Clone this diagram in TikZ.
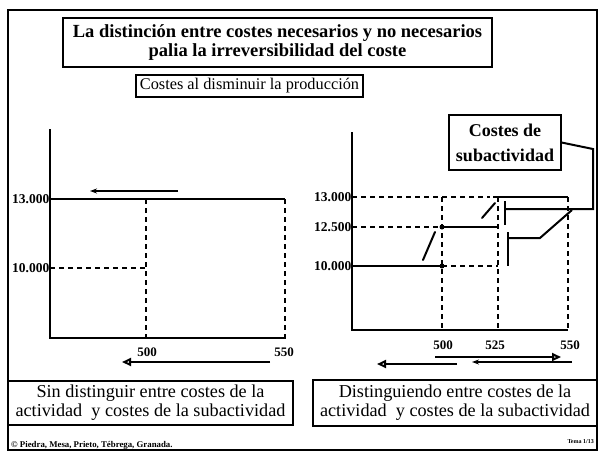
\documentclass[tikz,border=0pt]{standalone}
\usepackage{fontspec}
\setmainfont{Liberation Serif}
\usetikzlibrary{arrows.meta}
\begin{document}
\begin{tikzpicture}[x=1pt,y=-1pt,
  axisline/.style={line width=2.6pt},
  solidline/.style={line width=2.8pt},
  dashline/.style={line width=2pt, dash pattern=on 5pt off 4pt},
  thinline/.style={line width=2pt},
  boxnode/.style={draw, line width=1.1pt, inner sep=0pt, align=center},
  ylab/.style={anchor=east, inner sep=0.5pt, font=\fontsize{13.5}{13.5}\selectfont\bfseries},
  xlab/.style={inner sep=0pt, font=\fontsize{13}{13}\selectfont\bfseries},
  opentip/.style={-{Triangle[open,length=9pt,width=8pt]}},
  smalltip/.style={-{Stealth[length=7pt,width=5pt]}}
]
\useasboundingbox (0,0) rectangle (599,453);
\draw[line width=2pt] (8,10) rectangle (597,450);

% titles
\node[boxnode, minimum width=429pt, minimum height=49pt,
      font=\fontsize{18.5}{19}\selectfont\bfseries] (title) at (277.5,42.5)
  {La distinción entre costes necesarios y no necesarios\\palia la irreversibilidad del coste};
\node[boxnode, minimum width=227pt, minimum height=22pt,
      font=\fontsize{16.3}{16}\selectfont] (sub) at (249.5,86)
  {Costes al disminuir la producción};

% ---------------- left chart
\coordinate (LT) at (50,129);
\coordinate (LO) at (50,338);
\coordinate (LR) at (286,338);
\coordinate (La) at (50,199);
\coordinate (Lb) at (285,199);
\coordinate (Lc) at (50,268);
\coordinate (Ld) at (146,268);
\coordinate (Le) at (146,199);
\coordinate (Lf) at (146,338);
\coordinate (Lg) at (285,338);
\draw[axisline] (LT) -- (LO) -- (LR);
\draw[solidline] (La) -- (Lb);
\draw[dashline] (Lc) -- (Ld);
\draw[dashline] (Le) -- (Lf);
\draw[dashline] (Lb) -- (Lg);
\coordinate (Lh) at (178,191);
\coordinate (Li) at (90,191);
\draw[thinline, smalltip] (Lh) -- (Li);
\node[ylab] (l13) at (La) {13.000};
\node[ylab] (l10) at (Lc) {10.000};
\node[xlab] (l500) at (147,352) {500};
\node[xlab] (l550) at (284,352) {550};
\coordinate (Lj) at (270,362);
\coordinate (Lk) at (122,362);
\draw[thinline, opentip] (Lj) -- (Lk);

% ---------------- right chart
\coordinate (RT) at (352,132);
\coordinate (RO) at (352,330);
\coordinate (RR) at (568,330);
\draw[axisline] (RT) -- (RO) -- (RR);
\coordinate (Ra) at (352,197);
\coordinate (Rb) at (490,197);
\coordinate (Rc) at (493,197);
\coordinate (Rd) at (568,197);
\coordinate (Re) at (442,197);
\coordinate (Rf) at (442,330);
\coordinate (Rg) at (498,197);
\coordinate (Rh) at (498,330);
\coordinate (Ri) at (568,330);
\coordinate (Rj) at (352,227);
\coordinate (Rk) at (442,227);
\coordinate (Rl) at (498,227);
\coordinate (Rm) at (352,266);
\coordinate (Rn) at (442,266);
\coordinate (Ro) at (498,266);
\draw[dashline] (Ra) -- (Rb);
\draw[solidline] (Rc) -- (Rd);
\draw[dashline] (Re) -- (Rf);
\draw[dashline] (Rg) -- (Rh);
\draw[dashline] (Rd) -- (Ri);
\draw[dashline] (Rj) -- (Rk);
\draw[solidline] (Rk) -- (Rl);
\draw[solidline] (Rm) -- (Rn);
\draw[dashline] (Rn) -- (Ro);
\fill (Rk) circle (2.5pt);
\fill (Rn) circle (2.5pt);
\coordinate (Rp) at (423,260);
\coordinate (Rq) at (435,232);
\coordinate (Rr) at (482,218);
\coordinate (Rs) at (495,203);
\draw[thinline, line cap=round] (Rp) -- (Rq);
\draw[thinline, line cap=round] (Rr) -- (Rs);
\node[ylab] (r13) at (Ra) {13.000};
\node[ylab] (r125) at (Rj) {12.500};
\node[ylab] (r10) at (Rm) {10.000};
\node[xlab] (r500) at (443,345) {500};
\node[xlab] (r525) at (495,345) {525};
\node[xlab] (r550) at (570,345) {550};
\coordinate (Rt) at (435,357);
\coordinate (Ru) at (561,357);
\draw[thinline, opentip] (Rt) -- (Ru);
\coordinate (Rv) at (457,364);
\coordinate (Rw) at (377,364);
\draw[thinline, opentip] (Rv) -- (Rw);
\coordinate (Rx) at (572,362);
\coordinate (Ry) at (472,362);
\draw[thinline, smalltip] (Rx) -- (Ry);

% callout
\node[boxnode, minimum width=112pt, minimum height=55pt,
      font=\fontsize{18}{25}\selectfont\bfseries] (call) at (505,142.5)
  {Costes de\\subactividad};
\coordinate (Ca) at (593,149);
\coordinate (Cb) at (593,209);
\coordinate (Cc) at (505,209);
\coordinate (Cd) at (505,201);
\coordinate (Ce) at (505,225);
\coordinate (Cf) at (572,210);
\coordinate (Cg) at (540,238);
\coordinate (Ch) at (508,238);
\coordinate (Ci) at (508,232);
\coordinate (Cj) at (508,266);
\draw[thinline] (call.east) -- (Ca) -- (Cb) -- (Cc);
\draw[thinline] (Cd) -- (Ce);
\draw[thinline] (Cf) -- (Cg) -- (Ch);
\draw[thinline] (Ci) -- (Cj);

% captions
\node[boxnode, minimum width=285pt, minimum height=44pt,
      font=\fontsize{18.2}{19}\selectfont] (capL) at (150.5,403)
  {Sin distinguir entre costes de la\\actividad\ \ y costes de la subactividad};
\node[boxnode, minimum width=284pt, minimum height=46pt,
      font=\fontsize{18.2}{19}\selectfont] (capR) at (455,403)
  {Distinguiendo entre costes de la\\actividad\ \ y costes de la subactividad};

% footer
\node[anchor=west, inner sep=0pt, font=\fontsize{8.8}{9}\selectfont\bfseries] (foot) at (11,445)
  {© Piedra, Mesa, Prieto, Tébrega, Granada.};
\node[anchor=east, inner sep=0pt, font=\fontsize{6}{7}\selectfont\bfseries] (tema) at (594,442)
  {Tema 1/13};
\end{tikzpicture}
\end{document}
